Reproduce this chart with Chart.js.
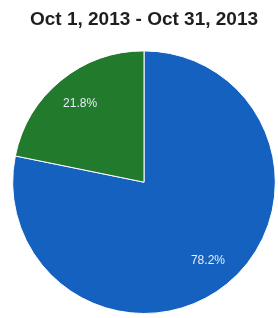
<!DOCTYPE html>
<html>
<head>
<meta charset="utf-8">
<script src="https://cdn.jsdelivr.net/npm/chart.js@4"></script>
<style>
  html, body { margin:0; padding:0; background:#fff; }
  #wrap { width:278px; height:318px; }
</style>
</head>
<body>
<div id="wrap"><canvas id="pie" width="278" height="318"></canvas></div>
<script>
// ---- data ----
const TITLE = "Oct 1, 2013 - Oct 31, 2013";
const SEGMENTS = ["Blue", "Green"];
const SHARES = [78.2, 21.8];
const COLORS = ['#1561c0', '#227a2c'];

// draws the percentage inside each slice, ~0.77 of the radius out
const sliceLabels = {
  id: 'sliceLabels',
  afterDatasetsDraw(chart){
    const ctx = chart.ctx;
    const meta = chart.getDatasetMeta(0);
    ctx.save();
    ctx.font = '12px "Liberation Sans", Arial, sans-serif';
    ctx.fillStyle = '#e6eef9';
    ctx.textAlign = 'center';
    ctx.textBaseline = 'middle';
    meta.data.forEach((arc, i) => {
      const p = arc.getProps(['x','y','startAngle','endAngle','outerRadius'], true);
      const mid = (p.startAngle + p.endAngle) / 2;
      const r = p.outerRadius * 0.77;
      ctx.fillText(SHARES[i].toFixed(1) + '%', p.x + Math.cos(mid)*r, p.y + Math.sin(mid)*r);
    });
    ctx.restore();
  }
};

new Chart(document.getElementById('pie'), {
  type: 'pie',
  data: {
    labels: SEGMENTS,
    datasets: [{ data: SHARES, backgroundColor: COLORS, borderColor: '#ffffff', borderWidth: 1 }]
  },
  options: {
    responsive: false,
    animation: false,
    events: [],
    layout: { padding: { left: 10, right: 0, top: 0, bottom: 4 } },
    plugins: {
      legend: { display: false },
      tooltip: { enabled: false },
      title: {
        display: true, text: TITLE, color: '#1e1e1e',
        font: { family: '"Liberation Sans", Arial, sans-serif', size: 19, weight: 'bold', lineHeight: 1.125 },
        padding: { top: 9, bottom: 20 }
      }
    }
  },
  plugins: [sliceLabels]
});
</script>
</body>
</html>
